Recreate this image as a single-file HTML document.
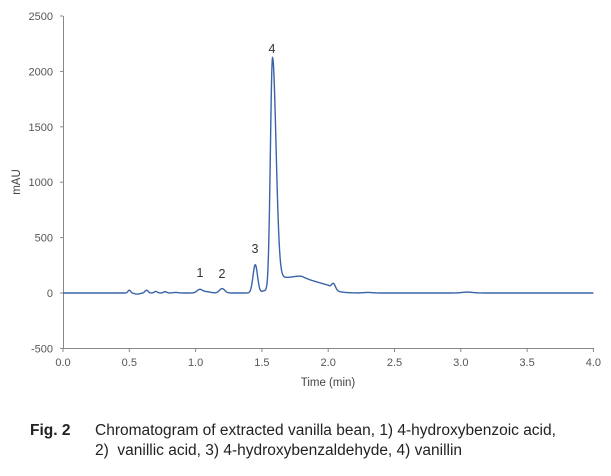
<!DOCTYPE html>
<html><head><meta charset="utf-8"><style>
body{margin:0;background:#fff;width:611px;height:476px;overflow:hidden;font-family:"Liberation Sans",sans-serif}
.cap{position:absolute;font-size:15.5px;color:#222;line-height:20px}
</style></head><body>
<svg id="s" width="611" height="400" style="position:absolute;left:0;top:0" font-family="Liberation Sans, sans-serif">
<g stroke="#888" stroke-width="1" fill="none">
<line x1="63.5" y1="16" x2="63.5" y2="348"/>
<line x1="63" y1="348.5" x2="594" y2="348.5"/>
</g>
<g id="ticks" stroke="#888"></g>
<g font-size="11" fill="#555" text-anchor="end" id="yl"></g>
<g font-size="11" fill="#555" text-anchor="middle" id="xl"></g>
<text x="20" y="182" font-size="11.5" fill="#444" text-anchor="middle" transform="rotate(-90 20 182)">mAU</text>
<text x="328" y="386" font-size="11.5" fill="#444" text-anchor="middle">Time (min)</text>
<g font-size="12.5" fill="#333" text-anchor="middle">
<text x="200" y="277">1</text><text x="222" y="278">2</text>
<text x="255" y="253">3</text><text x="272" y="53">4</text>
</g>
<path id="p" fill="none" stroke="#3a63a8" stroke-width="1.4"/>
</svg>
<div class="cap" style="left:30px;top:421px;font-weight:bold">Fig. 2</div>
<div class="cap" style="left:95px;top:421px">Chromatogram of extracted vanilla bean, 1) 4-hydroxybenzoic acid,<br>2)&nbsp; vanillic acid, 3) 4-hydroxybenzaldehyde, 4) vanillin</div>
<script>
var X=t=>63+132.6*t, Y=v=>293-v*0.1108, ns="http://www.w3.org/2000/svg";
var tk=document.getElementById('ticks'),yl=document.getElementById('yl'),xl=document.getElementById('xl');
function el(p,n,a,txt){var e=document.createElementNS(ns,n);for(var k in a)e.setAttribute(k,a[k]);if(txt)e.textContent=txt;p.appendChild(e);}
for(var v=-500;v<=2500;v+=500){var y=Y(v);el(tk,'line',{x1:60,x2:63,y1:y,y2:y});el(yl,'text',{x:53,y:y+4},''+v);}
for(var t=0;t<=4;t+=0.5){var x=X(t);el(tk,'line',{x1:x,x2:x,y1:348,y2:352});el(xl,'text',{x:x,y:366},t.toFixed(1));}
function g(t,c,s,a){return a*Math.exp(-Math.pow((t-c)/s,2)/2);}
function tail(t){
 if(t<1.8)return 140;
 if(t<2.0)return 140-70*(t-1.8)/0.2;
 return 70*Math.exp(-(t-2.0)/0.05);
}
function f(t){var v=0;
v+=g(t,0.5,0.01,25)-g(t,0.56,0.02,10)+g(t,0.63,0.012,25)+g(t,0.7,0.012,14)+g(t,0.77,0.012,12)+g(t,0.85,0.02,5);
v+=g(t,1.03,0.02,30)+g(t,1.08,0.03,12)+g(t,1.2,0.02,40);
v+=g(t,1.45,0.017,255)+g(t,1.52,0.02,20);
v+=t<1.58?g(t,1.58,0.016,2100):g(t,1.58,0.026,2100);
var r=1/(1+Math.exp(-(t-1.6)/0.012));
v+=r*tail(t)+g(t,1.78,0.04,12);
v+=g(t,2.04,0.015,55)+g(t,3.05,0.04,8)+g(t,2.3,0.03,5);
return v;}
var d='';for(var t=0;t<=4.0001;t+=0.002){d+=(d?'L':'M')+X(t).toFixed(2)+','+Y(f(t)).toFixed(2);}
document.getElementById('p').setAttribute('d',d);
</script>
</body></html>
